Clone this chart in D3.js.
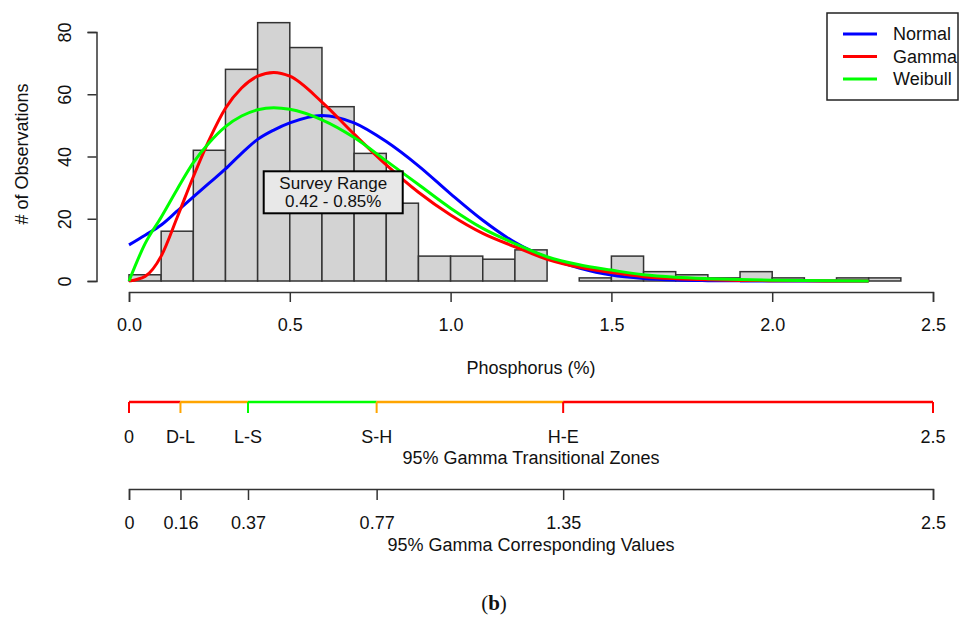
<!DOCTYPE html>
<html>
<head>
<meta charset="utf-8">
<script src="https://cdn.jsdelivr.net/npm/d3@7"></script>
<style>
  body { margin: 0; background: #fff; overflow: hidden; }
  svg { display: block; }
  svg text { font-family: "Liberation Sans", Arial, sans-serif; fill: #111; }
</style>
</head>
<body>
<div class="vis-hist"></div>
<script>
// histogram bins (lower edge, width 0.1) and counts
const binStart = [0, 0.1, 0.2, 0.3, 0.4, 0.5, 0.6, 0.7, 0.8, 0.9, 1.0, 1.1,
                  1.2, 1.3, 1.4, 1.5, 1.6, 1.7, 1.8, 1.9, 2.0, 2.1, 2.2, 2.3];
const counts = [2, 16, 42, 68, 83, 75, 56, 41, 25, 8, 8, 7,
                10, 0, 1, 8, 3, 2, 1, 3, 1, 0, 1, 1];
const binWidth = 0.1;

// fitted curves
const curveX = [0, 0.05, 0.1, 0.15, 0.2, 0.25, 0.3, 0.35, 0.4, 0.45, 0.5, 0.6, 0.7, 0.8,
                0.9, 1.0, 1.1, 1.2, 1.3, 1.4, 1.5, 1.6, 1.7, 1.8, 1.9, 2.0, 2.1, 2.2, 2.3];
const normalY = [11.6, 14.7, 18, 22.5, 27, 31.5, 36, 41, 45.5, 48.5, 50.8, 53.2, 50.8, 44.8,
                 37, 28, 19.5, 12.4, 7.5, 4.2, 1.9, 0.8, 0.3, 0.12, 0.04, 0, 0, 0, 0];
const gammaY = [0, 1.5, 8, 20.5, 33.5, 45.5, 55.5, 62, 65.8, 67, 65.8, 57.5, 47.2, 37.3,
                28.5, 21.2, 15.3, 11, 7, 4.4, 2.7, 1.4, 0.75, 0.4, 0.2, 0.1, 0.05, 0.02, 0];
const weibullY = [0, 12, 20.5, 29.5, 38, 44.5, 49.6, 53, 55, 55.7, 55.2, 51.8, 46.1, 38.6,
                  31, 23.4, 16.9, 12, 7.8, 5.2, 3.5, 2, 1.2, 0.75, 0.45, 0.25, 0.15, 0.08, 0.04];

const seriesNames = ["Normal", "Gamma", "Weibull"];
const seriesColors = ["#0000ff", "#ff0000", "#00ff00"];

const xTicks = [0, 0.5, 1.0, 1.5, 2.0, 2.5];
const yTicks = [0, 20, 40, 60, 80];

// transitional zones
const zoneBreaks = [0, 0.16, 0.37, 0.77, 1.35, 2.5];
const zoneLabels = ["0", "D-L", "L-S", "S-H", "H-E", "2.5"];
const valueLabels = ["0", "0.16", "0.37", "0.77", "1.35", "2.5"];
const zoneColors = ["#ff0000", "#ffa500", "#00ff00", "#ffa500", "#ff0000"];
const zoneTickColors = ["#ff0000", "#ffa500", "#00ff00", "#ffa500", "#ff0000", "#ff0000"];

const W = 960, H = 617;
const axisCol = "#333";
const fs = 18;

const svg = d3.select('.vis-hist').append('svg')
    .attr('width', W).attr('height', H);

const x = d3.scaleLinear().domain([0, 2.5]).range([129, 933]);
const y = d3.scaleLinear().domain([0, 80]).range([281, 32]);

// bars
svg.append("g").selectAll("rect")
    .data(binStart)
    .enter().append("rect")
    .attr("x", (d) => x(d))
    .attr("width", x(binWidth) - x(0))
    .attr("y", (d, i) => y(counts[i]))
    .attr("height", (d, i) => y(0) - y(counts[i]))
    .attr("fill", "#d3d3d3")
    .attr("stroke", axisCol)
    .attr("stroke-width", 1.5);

// curves
const line = d3.line()
    .x((d) => x(d[0]))
    .y((d) => y(d[1]))
    .curve(d3.curveMonotoneX);
[normalY, gammaY, weibullY].forEach((ys, k) => {
    svg.append("path")
        .datum(curveX.map((v, i) => [v, ys[i]]))
        .attr("fill", "none")
        .attr("stroke", seriesColors[k])
        .attr("stroke-width", 3)
        .attr("d", line);
});

// survey range box
const boxG = svg.append("g").attr("transform", "translate(" + x(0.635) + "," + y(28.5) + ")");
boxG.append("rect")
    .attr("x", -69.5).attr("y", -21).attr("width", 139).attr("height", 42)
    .attr("fill", "#e8e8e8").attr("stroke", "#000").attr("stroke-width", 2);
boxG.append("text").attr("text-anchor", "middle").attr("y", -9).attr("dy", "0.35em")
    .style("font-size", "17px").text("Survey Range");
boxG.append("text").attr("text-anchor", "middle").attr("y", 9).attr("dy", "0.35em")
    .style("font-size", "17px").text("0.42 - 0.85%");

// x axis
const xAxis = svg.append("g")
    .attr("transform", "translate(0,292)")
    .call(d3.axisBottom(x).tickValues(xTicks).tickFormat(d3.format(".1f"))
        .tickSize(10).tickPadding(16));
xAxis.selectAll("path, line").attr("stroke", axisCol).attr("stroke-width", 1.5);
xAxis.selectAll("text").style("font-size", fs + "px").attr("fill", "#111").style("font-family", null);

svg.append("text").attr("x", 531).attr("y", 368).attr("dy", "0.35em")
    .attr("text-anchor", "middle").style("font-size", fs + "px").text("Phosphorus (%)");

// y axis
const yAxis = svg.append("g")
    .attr("transform", "translate(96.5,0)")
    .call(d3.axisLeft(y).tickValues(yTicks).tickSize(9));
yAxis.selectAll("path, line").attr("stroke", axisCol).attr("stroke-width", 1.5);
yAxis.selectAll("text")
    .attr("x", null).attr("dy", "0.36em")
    .attr("text-anchor", "middle")
    .attr("transform", "translate(-31.5,0) rotate(-90)")
    .style("font-size", fs + "px").attr("fill", "#111").style("font-family", null);

svg.append("text")
    .attr("transform", "translate(22,154) rotate(-90)")
    .attr("dy", "0.35em").attr("text-anchor", "middle")
    .style("font-size", fs + "px").text("# of Observations");

// legend
const leg = svg.append("g");
leg.append("rect").attr("x", 827).attr("y", 13).attr("width", 131).attr("height", 87)
    .attr("fill", "#fff").attr("stroke", "#222").attr("stroke-width", 1.5);
seriesNames.forEach((name, i) => {
    const ly = 34 + i * 22.5;
    leg.append("line").attr("x1", 843).attr("x2", 877).attr("y1", ly).attr("y2", ly)
        .attr("stroke", seriesColors[i]).attr("stroke-width", 3);
    leg.append("text").attr("x", 893).attr("y", ly).attr("dy", "0.35em")
        .style("font-size", fs + "px").text(name);
});

// transitional zones bar
const zoneY = 402;
const zg = svg.append("g");
zoneColors.forEach((c, i) => {
    zg.append("line")
        .attr("x1", x(zoneBreaks[i])).attr("x2", x(zoneBreaks[i + 1]))
        .attr("y1", zoneY).attr("y2", zoneY)
        .attr("stroke", c).attr("stroke-width", 2.5);
});
zoneBreaks.forEach((b, i) => {
    zg.append("line")
        .attr("x1", x(b)).attr("x2", x(b))
        .attr("y1", zoneY).attr("y2", zoneY + 11)
        .attr("stroke", zoneTickColors[i]).attr("stroke-width", 2);
    zg.append("text").attr("x", x(b)).attr("y", 437).attr("dy", "0.35em")
        .attr("text-anchor", "middle").style("font-size", fs + "px").text(zoneLabels[i]);
});
svg.append("text").attr("x", 531).attr("y", 458).attr("dy", "0.35em")
    .attr("text-anchor", "middle").style("font-size", fs + "px")
    .text("95% Gamma Transitional Zones");

// corresponding values axis
const vAxis = svg.append("g")
    .attr("transform", "translate(0,489)")
    .call(d3.axisBottom(x).tickValues(zoneBreaks)
        .tickFormat((d, i) => valueLabels[i]).tickSize(11).tickPadding(16));
vAxis.selectAll("path, line").attr("stroke", axisCol).attr("stroke-width", 1.5);
vAxis.selectAll("text").style("font-size", fs + "px").attr("fill", "#111").style("font-family", null);

svg.append("text").attr("x", 531).attr("y", 545).attr("dy", "0.35em")
    .attr("text-anchor", "middle").style("font-size", fs + "px")
    .text("95% Gamma Corresponding Values");

// panel caption
const cap = svg.append("text").attr("x", 494).attr("y", 603).attr("dy", "0.35em")
    .attr("text-anchor", "middle")
    .style("font-family", "'Liberation Serif', 'DejaVu Serif', serif")
    .style("font-size", "21px");
cap.append("tspan").text("(");
cap.append("tspan").style("font-weight", "bold").text("b");
cap.append("tspan").text(")");
</script>
</body>
</html>
